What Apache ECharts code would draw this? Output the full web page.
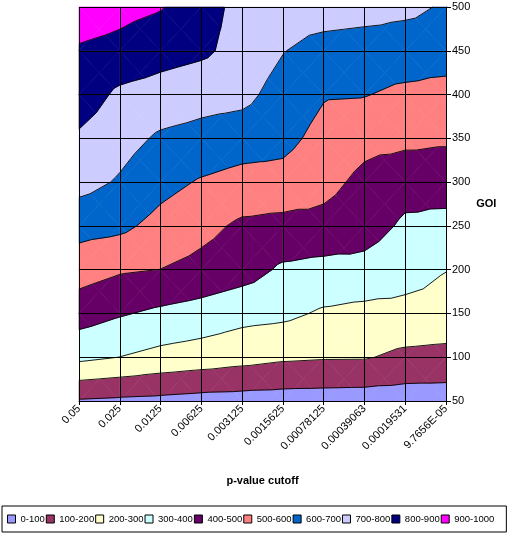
<!DOCTYPE html>
<html>
<head>
<meta charset="utf-8">
<script src="https://cdn.jsdelivr.net/npm/echarts@6/dist/echarts.min.js"></script>
<style>
  html, body { margin: 0; padding: 0; background: #fff; }
  #chart { width: 512px; height: 537px; }
</style>
</head>
<body>
<div id="chart"></div>
<script>
// x categories (p-value cutoff) and y rows (GOI)
const cutoffs = ['0.05', '0.025', '0.0125', '0.00625', '0.003125', '0.0015625', '0.00078125', '0.00039063', '0.00019531', '9.7656E-05'];
const goiRows = [50, 100, 150, 200, 250, 300, 350, 400, 450, 500];

// surface value at GOI 50..500, one list per cutoff column
const zCut0 = [91, 323, 445, 544, 636, 734, 785, 856, 890, 952];
const zCut1 = [82, 299, 409, 511, 622, 690, 736, 780, 873, 928];
const zCut2 = [75, 271, 381, 499, 569, 631, 686, 759, 839, 906];
const zCut3 = [64, 254, 360, 472, 528, 591, 669, 736, 818, 840];
const zCut4 = [60, 235, 331, 442, 483, 566, 648, 728, 765, 770];
const zCut5 = [56, 216, 321, 385, 470, 568, 627, 660, 704, 750];
const zCut6 = [54, 208, 288, 369, 470, 530, 570, 607, 660, 752];
const zCut7 = [51, 207, 273, 370, 440, 475, 529, 604, 650, 741];
const zCut8 = [48, 179, 270, 340, 385, 435, 524, 580, 652, 721];
const zCut9 = [49, 170, 266, 302, 370, 445, 513, 560, 655, 690];
const zColumns = [zCut0, zCut1, zCut2, zCut3, zCut4, zCut5, zCut6, zCut7, zCut8, zCut9];

const bandNames = ['0-100', '100-200', '200-300', '300-400', '400-500', '500-600', '600-700', '700-800', '800-900', '900-1000'];
const bandColors = ['#9999FF', '#993366', '#FFFFCC', '#CCFFFF', '#660066', '#FF8080', '#0066CC', '#CCCCFF', '#000080', '#FF00FF'];
const bandEdges = [0, 100, 200, 300, 400, 500, 600, 700, 800, 900, 1000];

const FONT = 'Liberation Sans, Arial, sans-serif';

// one entry per grid cell
const cells = [];
for (let i = 0; i < cutoffs.length - 1; i++) {
    for (let j = 0; j < goiRows.length - 1; j++) {
        cells.push([i, j]);
    }
}

// split a cell in 4 triangles round its centre, points are [px, py, z]
function cellTriangles(api, idx) {
    const i = Math.floor(idx / (goiRows.length - 1));
    const j = idx % (goiRows.length - 1);
    const corner = (ci, cj) => {
        const p = api.coord([ci, goiRows[cj]]);
        return [p[0], p[1], zColumns[ci][cj]];
    };
    const a = corner(i, j), b = corner(i + 1, j), c = corner(i + 1, j + 1), d = corner(i, j + 1);
    const m = [0, 1, 2].map(k => (a[k] + b[k] + c[k] + d[k]) / 4);
    return [[a, b, m], [b, c, m], [c, d, m], [d, a, m]];
}

// keep the part of poly where sign*(z-level) >= 0
function clip(poly, level, sign) {
    const out = [];
    for (let k = 0; k < poly.length; k++) {
        const a = poly[k], b = poly[(k + 1) % poly.length];
        const ina = sign * (a[2] - level) >= 0, inb = sign * (b[2] - level) >= 0;
        if (ina) out.push(a);
        if (ina !== inb) {
            const t = (level - a[2]) / (b[2] - a[2]);
            out.push([a[0] + t * (b[0] - a[0]), a[1] + t * (b[1] - a[1]), level]);
        }
    }
    return out;
}

function bandSeries(k) {
    const lo = bandEdges[k], hi = bandEdges[k + 1], color = bandColors[k];
    return {
        name: bandNames[k],
        type: 'custom',
        data: cells,
        itemStyle: { color: color },
        z: 2,
        renderItem: function (params, api) {
            const children = [];
            cellTriangles(api, params.dataIndex).forEach(tri => {
                let poly = clip(tri, lo, 1);
                if (poly.length) poly = clip(poly, hi, -1);
                if (poly.length >= 3) {
                    children.push({
                        type: 'polygon',
                        shape: { points: poly.map(p => [p[0], p[1]]) },
                        style: { fill: color, stroke: color, lineWidth: 0.6 }
                    });
                }
            });
            return { type: 'group', children: children };
        }
    };
}

const contourSeries = {
    name: 'contours',
    type: 'custom',
    data: cells,
    z: 3,
    silent: true,
    renderItem: function (params, api) {
        const children = [];
        cellTriangles(api, params.dataIndex).forEach(tri => {
            for (let e = 1; e < bandEdges.length - 1; e++) {
                const L = bandEdges[e];
                const pts = [];
                for (let k = 0; k < 3; k++) {
                    const a = tri[k], b = tri[(k + 1) % 3];
                    if ((a[2] < L) !== (b[2] < L)) {
                        const t = (L - a[2]) / (b[2] - a[2]);
                        pts.push([a[0] + t * (b[0] - a[0]), a[1] + t * (b[1] - a[1])]);
                    }
                }
                if (pts.length === 2) {
                    children.push({
                        type: 'line',
                        shape: { x1: pts[0][0], y1: pts[0][1], x2: pts[1][0], y2: pts[1][1] },
                        style: { stroke: '#000', lineWidth: 0.9 }
                    });
                }
            }
        });
        return { type: 'group', children: children };
    }
};

const chart = echarts.init(document.getElementById('chart'));
chart.setOption({
    animation: false,
    backgroundColor: '#fff',
    grid: { left: 79, right: 66, top: 7, bottom: 136 },
    xAxis: {
        type: 'category',
        data: cutoffs,
        boundaryGap: false,
        z: 10,
        name: 'p-value cutoff',
        nameLocation: 'middle',
        nameGap: 74,
        nameTextStyle: { fontFamily: FONT, fontSize: 11, fontWeight: 'bold', color: '#000' },
        axisLine: { lineStyle: { color: '#000', width: 1 } },
        axisTick: { show: true, length: 4, interval: 0, lineStyle: { color: '#000' } },
        axisLabel: { interval: 0, rotate: 45, margin: 6, fontFamily: FONT, fontSize: 11, color: '#000' },
        splitLine: { show: true, interval: 0, lineStyle: { color: '#000', width: 1 } }
    },
    yAxis: {
        type: 'value',
        position: 'right',
        min: 50,
        max: 500,
        interval: 50,
        z: 10,
        name: 'GOI',
        nameLocation: 'middle',
        nameRotate: 0,
        nameGap: 26,
        nameTextStyle: { fontFamily: FONT, fontSize: 11, fontWeight: 'bold', color: '#000', align: 'left' },
        axisLine: { show: true, lineStyle: { color: '#000', width: 1 } },
        axisTick: { show: true, length: 5, lineStyle: { color: '#000' } },
        axisLabel: { margin: 6, fontFamily: FONT, fontSize: 11, color: '#000' },
        splitLine: { show: true, lineStyle: { color: '#000', width: 1 } }
    },
    legend: {
        data: bandNames,
        left: 2,
        top: 506,
        width: 508,
        padding: [8, 12, 8, 5],
        itemGap: 1,
        itemWidth: 8,
        itemHeight: 8,
        icon: 'rect',
        selectedMode: false,
        borderColor: '#000',
        borderWidth: 1,
        itemStyle: { borderColor: '#000', borderWidth: 1 },
        textStyle: { fontFamily: FONT, fontSize: 9.5, color: '#000' }
    },
    series: bandNames.map((n, k) => bandSeries(k)).concat([contourSeries])
});
</script>
</body>
</html>
